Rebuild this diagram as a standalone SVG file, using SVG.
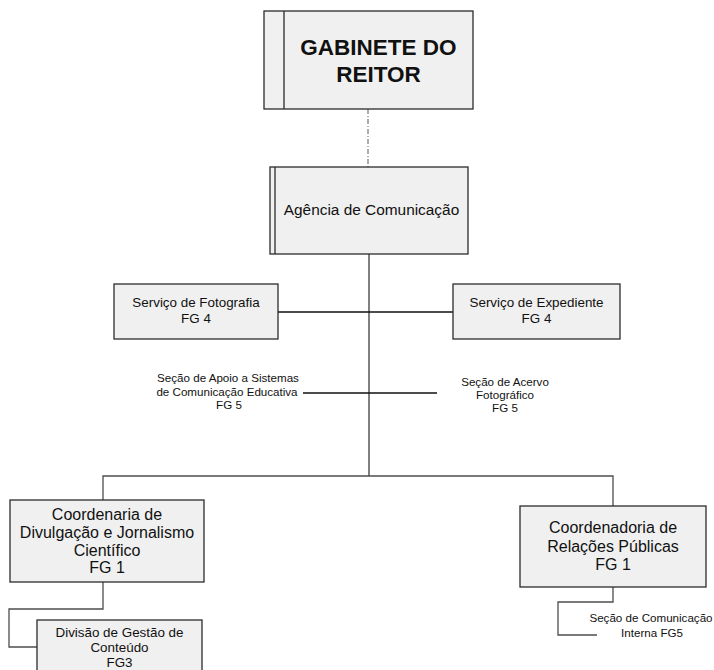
<svg xmlns="http://www.w3.org/2000/svg" width="714" height="670" viewBox="0 0 714 670">
  <style>
    .box { fill: #f0f0f0; stroke: #2b2b2b; stroke-width: 1.3; }
    .inner { fill: none; stroke: #2b2b2b; stroke-width: 1.3; }
    .t { font-family: "Liberation Sans", Arial, sans-serif; fill: #111; text-anchor: middle; }
    .title { font-size: 22.5px; font-weight: bold; }
    .mid { font-size: 15.4px; }
    .svc { font-size: 13.4px; }
    .big { font-size: 16px; }
    .small { font-size: 11.6px; }
    .conn { fill: none; stroke: #111; stroke-width: 1.3; }
    .trunk { fill: none; stroke: #808080; stroke-width: 2; }
    .branch { fill: none; stroke: #4d4d4d; stroke-width: 1.3; }
    .dashdot { fill: none; stroke: #808080; stroke-width: 1.3; stroke-dasharray: 5 2 1 2; }
  </style>

  <!-- connectors -->
  <g id="connectors">
    <line class="dashdot" x1="368" y1="109" x2="368" y2="167"/>
    <line class="trunk" x1="369" y1="254" x2="369" y2="476"/>
    <line class="conn" x1="278" y1="312" x2="453" y2="312"/>
    <line class="conn" x1="303" y1="393" x2="437" y2="393"/>
    <polyline class="branch" points="103,500 103,476 613,476 613,506"/>
    <polyline class="branch" points="103,582 103,609 9,609 9,647 37,647"/>
    <polyline class="branch" points="613,587 613,602 558,602 558,635 597,635"/>
  </g>

  <!-- top level -->
  <g id="gabinete">
    <rect class="box" x="264" y="11" width="209" height="98"/>
    <line class="inner" x1="284" y1="11" x2="284" y2="109"/>
    <text class="t title" x="378.5" y="54.5">GABINETE DO</text>
    <text class="t title" x="378.5" y="81.7">REITOR</text>
  </g>

  <g id="agencia">
    <rect class="box" x="270" y="167" width="198" height="87"/>
    <line class="inner" x1="275" y1="167" x2="275" y2="254"/>
    <text class="t mid" x="371.5" y="215">Agência de Comunicação</text>
  </g>

  <!-- services -->
  <g id="fotografia">
    <rect class="box" x="114" y="284" width="164" height="55"/>
    <text class="t svc" x="196" y="306.5">Serviço de Fotografia</text>
    <text class="t svc" x="196" y="323">FG 4</text>
  </g>

  <g id="expediente">
    <rect class="box" x="453" y="284" width="167" height="55"/>
    <text class="t svc" x="536.5" y="306.5">Serviço de Expediente</text>
    <text class="t svc" x="536.5" y="323">FG 4</text>
  </g>

  <!-- sections without boxes -->
  <g id="apoio">
    <text class="t small" x="228" y="382">Seção de Apoio a Sistemas</text>
    <text class="t small" x="227" y="396">de Comunicação Educativa</text>
    <text class="t small" x="229" y="409">FG 5</text>
  </g>

  <g id="acervo">
    <text class="t small" x="505" y="386">Seção de Acervo</text>
    <text class="t small" x="505" y="399">Fotográfico</text>
    <text class="t small" x="505" y="412">FG 5</text>
  </g>

  <!-- coordinations -->
  <g id="divulgacao">
    <rect class="box" x="10" y="500" width="194" height="82"/>
    <text class="t big" x="107" y="520">Coordenaria de</text>
    <text class="t big" x="107" y="538">Divulgação e Jornalismo</text>
    <text class="t big" x="107" y="555.5">Científico</text>
    <text class="t big" x="107" y="573">FG 1</text>
  </g>

  <g id="relacoes">
    <rect class="box" x="520" y="506" width="186" height="81"/>
    <text class="t big" x="613" y="533">Coordenadoria de</text>
    <text class="t big" x="613" y="551.5">Relações Públicas</text>
    <text class="t big" x="613" y="570">FG 1</text>
  </g>

  <g id="conteudo">
    <rect class="box" x="37" y="620" width="165" height="60"/>
    <text class="t svc" x="119.5" y="637">Divisão de Gestão de</text>
    <text class="t svc" x="119.5" y="652">Conteúdo</text>
    <text class="t svc" x="119.5" y="667">FG3</text>
  </g>

  <g id="comunicacao-interna">
    <text class="t small" x="651" y="622">Seção de Comunicação</text>
    <text class="t small" x="652" y="637">Interna FG5</text>
  </g>
</svg>
